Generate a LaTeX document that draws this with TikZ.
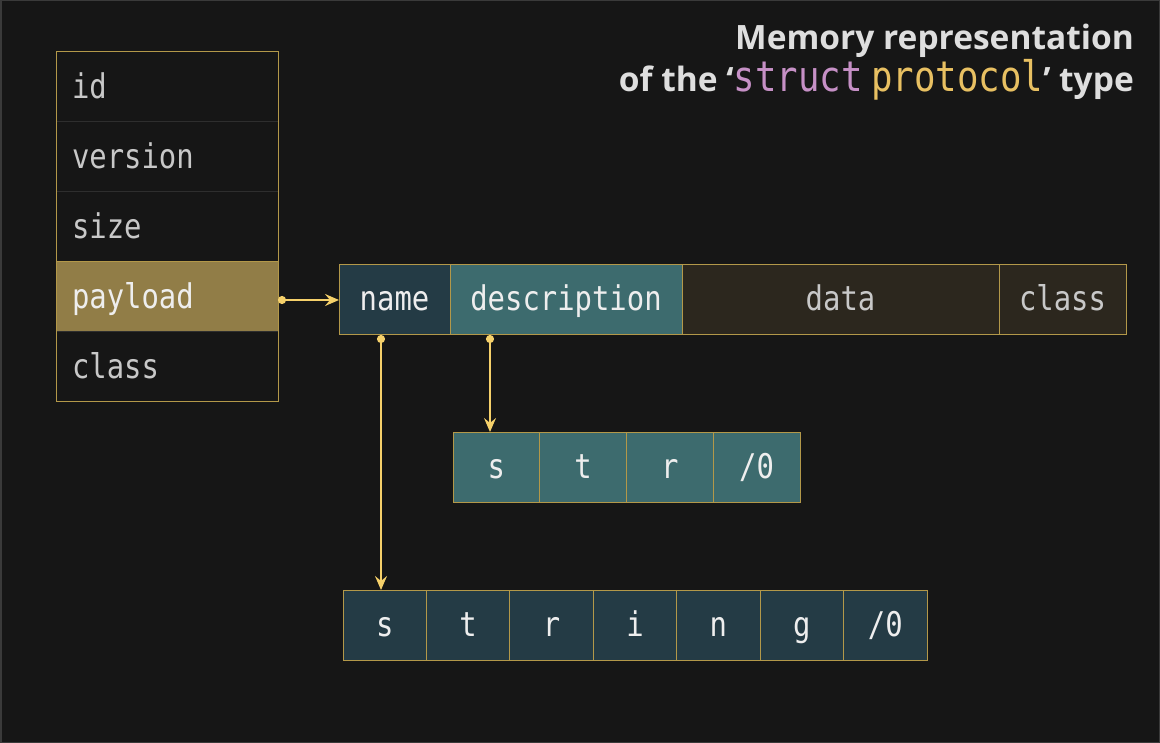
\documentclass[tikz,border=0pt]{standalone}
\usepackage{fontspec}
\setmainfont{Open Sans}
\newfontfamily\cellfont[FakeStretch=0.85]{DejaVu Sans Mono}
\usetikzlibrary{positioning,arrows.meta}
\definecolor{bg}{HTML}{161616}
\definecolor{frame}{HTML}{3A3A3A}
\definecolor{gold}{HTML}{B39849}
\definecolor{rowline}{HTML}{2E2E2E}
\definecolor{payfill}{HTML}{917D47}
\definecolor{namefill}{HTML}{243B45}
\definecolor{descfill}{HTML}{3D6B6E}
\definecolor{datafill}{HTML}{2C271E}
\definecolor{fieldtext}{HTML}{C8C8C8}
\definecolor{celltext}{HTML}{EEEEEE}
\definecolor{ptrcol}{HTML}{F5D06A}
\definecolor{titletext}{HTML}{DEDEDE}
\definecolor{kwcol}{HTML}{C690C6}
\definecolor{typecol}{HTML}{E8C062}
\tikzset{
    field/.style={draw=rowline, line width=1pt, outer sep=0pt, minimum height=70pt,
        text width=190pt, inner xsep=16pt, inner ysep=0pt, align=left,
        text height=24pt, text depth=0pt, text=fieldtext,
        font=\cellfont\fontsize{34}{40}\selectfont},
    cell/.style={draw=gold, line width=1pt, outer sep=0pt, minimum height=70pt,
        inner sep=0pt, text height=22pt, text depth=0pt, text=celltext,
        font=\cellfont\fontsize{34}{40}\selectfont},
    ptr/.style={ptrcol, line width=2pt,
        {Circle[length=8pt]}-{Stealth[length=14pt, width=12pt, inset=5pt]}},
    title/.style={inner sep=0pt, anchor=base east, text=titletext,
        font=\bfseries\fontsize{33.5}{40}\selectfont}
}
\newcommand{\code}[1]{{\cellfont\mdseries\fontsize{42}{46}\selectfont #1}}

\begin{document}
\begin{tikzpicture}[x=1pt, y=-1pt]
% Background
    \fill[bg] (0,0) rectangle (1160,743);
    \draw[frame, line width=1.5pt] (0.75,0.75) rectangle (1159.25,742.25);
    \useasboundingbox (0,0) rectangle (1160,743);
% Title
    \node[title] (title1) at (1134,50) {Memory representation};
    \node[title] (title2) at (1134,92) {of the `\textcolor{kwcol}{\code{struct}}
        \textcolor{typecol}{\code{protocol}}' type};
% Struct fields
    \node[field, anchor=north west] (id) at (56,52) {id};
    \node[field, below=0pt of id] (version) {version};
    \node[field, below=0pt of version] (size) {size};
    \node[field, below=0pt of size, fill=payfill, draw=gold, text=celltext] (payload) {payload};
    \node[field, below=0pt of payload] (class) {class};
    \draw[gold, line width=1pt] (payload.north west) -- (payload.north east);
    \draw[gold, line width=1pt] (id.north west) rectangle (class.south east);
% Payload
    \node[cell, fill=namefill, minimum width=111pt, anchor=north west] (name) at (339,265) {name};
    \node[cell, fill=descfill, minimum width=232pt, right=0pt of name] (desc) {description};
    \node[cell, fill=datafill, minimum width=317pt, right=0pt of desc, text=fieldtext] (data) {data};
    \node[cell, fill=datafill, minimum width=127pt, right=0pt of data, text=fieldtext] (pclass) {class};
% Description string
    \node[cell, fill=descfill, minimum width=86.75pt, anchor=north west] (d1) at (453,432) {s};
    \node[cell, fill=descfill, minimum width=86.75pt, right=0pt of d1] (d2) {t};
    \node[cell, fill=descfill, minimum width=86.75pt, right=0pt of d2] (d3) {r};
    \node[cell, fill=descfill, minimum width=86.75pt, right=0pt of d3] (d4) {/0};
% Name string
    \node[cell, fill=namefill, minimum width=83.43pt, anchor=north west] (n1) at (343,590) {s};
    \foreach \c [count=\i from 2, remember=\i as \j (initially 1)] in {t,r,i,n,g,/0}
        \node[cell, fill=namefill, minimum width=83.43pt, right=0pt of n\j] (n\i) {\c};
% Pointers
    \coordinate (nameptr) at ([xshift=42pt]name.south west);
    \coordinate (descptr) at ([xshift=40pt]desc.south west);
    \draw[ptr] (payload.east |- name.west) -- (name.west);
    \draw[ptr] (nameptr) -- (nameptr |- n1.north);
    \draw[ptr] (descptr) -- (descptr |- d1.north);
\end{tikzpicture}
\end{document}
